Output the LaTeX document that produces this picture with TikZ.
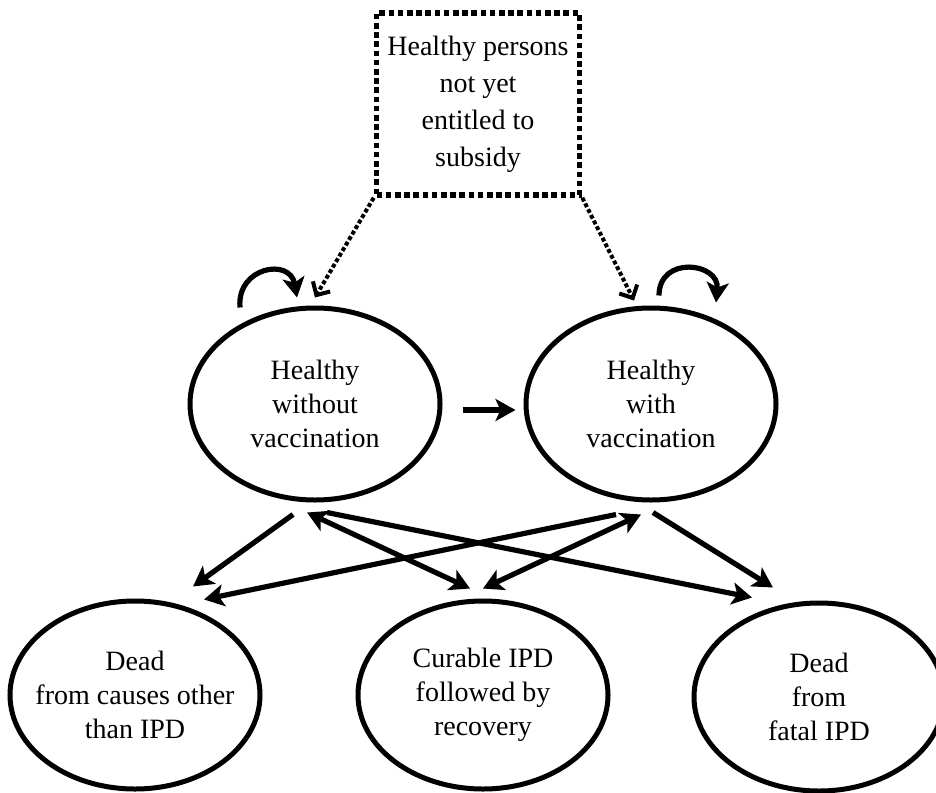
\documentclass[tikz,border=0pt]{standalone}
\usepackage{fontspec}
\setmainfont{Liberation Serif}
\usepackage{tikz}
\usetikzlibrary{shapes.geometric, arrows.meta}
\tikzstyle{state} = [ellipse,
					  minimum width=125pt,
					  minimum height=96pt,
					  inner xsep=-12pt,
					  text centered,
					  align=center,
					  line width=2.5pt,
					  draw=black,
					  font=\fontsize{14pt}{17pt}\selectfont,
					 ]
\tikzstyle{endstate} = [state,
					  minimum height=94pt,
					 ]
\tikzstyle{entrybox} = [rectangle,
					  minimum width=101.5pt,
					  minimum height=91pt,
					  text centered,
					  align=center,
					  line width=2.8pt,
					  dash pattern=on 2.8pt off 1.8pt,
					  draw=black,
					  font=\fontsize{14pt}{18.5pt}\selectfont,
					 ]
\tikzstyle{arrow} = [line width=2.6pt,-{Stealth[length=10pt,width=11pt,inset=2.5pt]}]
\tikzstyle{twoway} = [line width=2.6pt,{Stealth[length=10pt,width=11pt,inset=2.5pt]}-{Stealth[length=10pt,width=11pt,inset=2.5pt]}]
\tikzstyle{entryarrow} = [line width=2pt,dash pattern=on 2pt off 1.2pt,-{Straight Barb[length=5pt,width=10pt]}]

\begin{document}
\begin{tikzpicture}[node distance=168pt]
\useasboundingbox (0,0) rectangle (468pt,-396pt);

\node (subsidy) [entrybox] at (239pt,-52pt) {Healthy persons\\not yet\\entitled to\\subsidy};
\node (hwo) [state, below of =subsidy, xshift=-81.5pt, yshift=18pt] {Healthy\\without\\vaccination};
\node (hwv) [state, right of =hwo] {Healthy\\with\\vaccination};
\node (cure) [endstate, below of =hwo, xshift=84pt, yshift=22.5pt] {Curable IPD\\followed by\\recovery};
\node (dother) [endstate, left of =cure, xshift=-6pt] {Dead\\from causes other\\than IPD};
\node (dfatal) [endstate, right of =cure, yshift=-1pt] {Dead\\from\\fatal IPD};

\draw [entryarrow] (subsidy.south west) -- ([yshift=4pt]hwo.north);
\draw [entryarrow] (subsidy.south east) -- ([xshift=-8.5pt,yshift=2.5pt]hwv.north);
\draw [arrow] ([xshift=-37.5pt,yshift=-1pt]hwo.north) to[out=95,in=100,looseness=1.8] ([xshift=-9pt,yshift=4pt]hwo.north);
\draw [arrow] ([xshift=4pt,yshift=5pt]hwv.north) to[out=90,in=85,looseness=1.8] ([xshift=32.5pt,yshift=1.5pt]hwv.north);
\draw [arrow] ([xshift=10pt,yshift=-3pt]hwo.east) -- ([xshift=-4pt,yshift=-3pt]hwv.west);

\draw [arrow] ([xshift=-11pt,yshift=-6pt]hwo.south) -- ([xshift=29pt,yshift=6pt]dother.north);
\draw [arrow] ([xshift=-17.5pt,yshift=-6pt]hwv.south) -- ([xshift=34.5pt,yshift=-0.5pt]dother.north);
\draw [twoway] ([xshift=-4pt,yshift=-5pt]hwo.south) -- ([xshift=-6.5pt,yshift=5pt]cure.north);
\draw [twoway] ([xshift=-5pt,yshift=-6pt]hwv.south) -- ([yshift=5pt]cure.north);
\draw [arrow] ([xshift=6pt,yshift=-5pt]hwo.south) -- ([xshift=-33.5pt,yshift=1.5pt]dfatal.north);
\draw [arrow] ([xshift=1pt,yshift=-5pt]hwv.south) -- ([xshift=-23pt,yshift=6.5pt]dfatal.north);

\end{tikzpicture}
\end{document}
